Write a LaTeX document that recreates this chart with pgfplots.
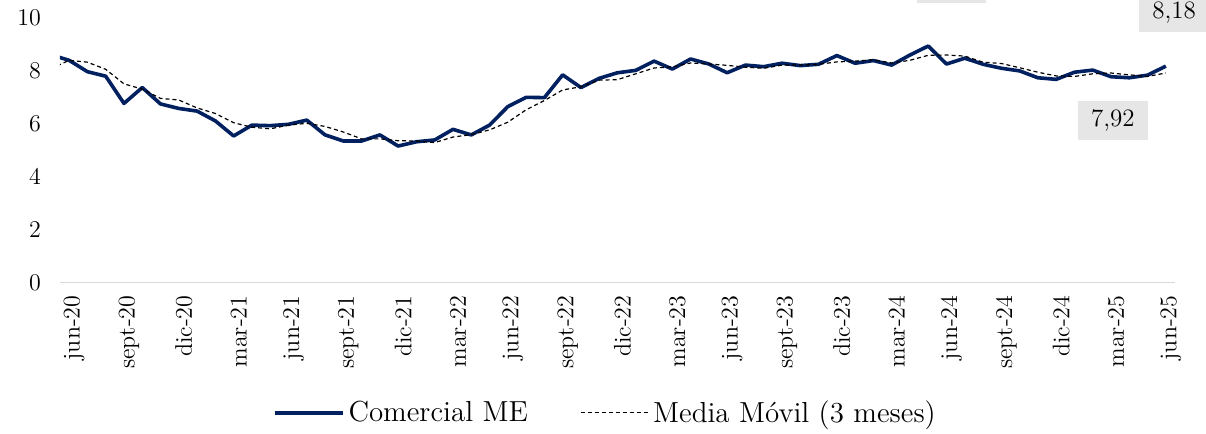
\documentclass[border=0pt]{standalone}
\usepackage{pgfplots}
\pgfplotsset{compat=1.18}
\usepackage{pgfplotstable}
\definecolor{navy}{RGB}{0,32,96}
\definecolor{boxgray}{RGB}{230,230,230}
\definecolor{zeroline}{RGB}{217,217,217}

\pgfplotstableread{
x y
-1 8.61
0 8.40
1 7.97
2 7.80
3 6.77
4 7.37
5 6.75
6 6.58
7 6.48
8 6.11
9 5.54
10 5.95
11 5.93
12 5.98
13 6.14
14 5.58
15 5.35
16 5.35
17 5.58
18 5.16
19 5.32
20 5.39
21 5.79
22 5.58
23 5.95
24 6.65
25 7.00
26 6.99
27 7.85
28 7.37
29 7.72
30 7.93
31 8.02
32 8.37
33 8.07
34 8.45
35 8.26
36 7.93
37 8.22
38 8.16
39 8.29
40 8.20
41 8.25
42 8.58
43 8.29
44 8.39
45 8.22
46 8.60
47 8.94
48 8.26
49 8.48
50 8.25
51 8.10
52 8.00
53 7.74
54 7.68
55 7.95
56 8.03
57 7.78
58 7.74
59 7.84
60 8.18
}\comercial

\pgfplotstableread{
x y
-1 8.08
0 8.40
1 8.33
2 8.06
3 7.51
4 7.31
5 6.96
6 6.90
7 6.60
8 6.39
9 6.04
10 5.87
11 5.81
12 5.95
13 6.02
14 5.90
15 5.69
16 5.43
17 5.43
18 5.36
19 5.35
20 5.29
21 5.50
22 5.59
23 5.77
24 6.06
25 6.53
26 6.88
27 7.28
28 7.40
29 7.65
30 7.67
31 7.89
32 8.11
33 8.15
34 8.30
35 8.26
36 8.21
37 8.14
38 8.10
39 8.22
40 8.22
41 8.25
42 8.34
43 8.37
44 8.42
45 8.30
46 8.40
47 8.59
48 8.60
49 8.56
50 8.33
51 8.28
52 8.12
53 7.95
54 7.81
55 7.79
56 7.89
57 7.92
58 7.85
59 7.79
60 7.92
}\media

\begin{document}
\begin{tikzpicture}
\path[use as bounding box] (0,0) rectangle (603pt,217pt);
\begin{axis}[
  at={(30pt,75.75pt)}, anchor=south west,
  scale only axis, width=557.5pt, height=132.25pt,
  xmin=-0.5, xmax=60.5, ymin=0, ymax=10,
  axis lines*=left,
  x axis line style={draw=zeroline, line width=0.6pt},
  y axis line style={draw=none},
  tick style={draw=none},
  major tick length=0pt,
  ytick={0,2,...,10},
  xtick={0,3,...,60},
  xticklabels={jun-20,sept-20,dic-20,mar-21,jun-21,sept-21,dic-21,mar-22,jun-22,sept-22,dic-22,mar-23,jun-23,sept-23,dic-23,mar-24,jun-24,sept-24,dic-24,mar-25,jun-25},
  xticklabel style={rotate=90, anchor=east, font=\fontsize{12}{14}\selectfont, xshift=-3pt, yshift=-2.5pt},
  yticklabel style={font=\fontsize{12}{14}\selectfont, anchor=east, xshift=-6pt},
  clip mode=individual,
  legend style={at={(0.49,-0.493)}, anchor=center, draw=none, fill=none,
    legend columns=2, font=\fontsize{14.5}{16}\selectfont,
    /tikz/every even column/.append style={column sep=24pt}},
  legend image code/.code={\draw[#1] (0pt,0pt) -- (34pt,0pt);},
]
\addplot[navy, line width=1.8pt, line join=round] table[x=x,y=y] {\comercial};
\addlegendentry{Comercial ME}
\addplot[black, line width=0.6pt, dash pattern=on 2pt off 1.5pt] table[x=x,y=y] {\media};
\addlegendentry{Media Móvil (3 meses)}
\node[fill=boxgray, minimum width=35pt, minimum height=19.5pt, inner sep=0pt, font=\fontsize{12.5}{14}\selectfont] at (axis cs:57.1,6.14) {7,92};
\node[fill=boxgray, minimum width=35pt, minimum height=19.5pt, inner sep=0pt, font=\fontsize{12.5}{14}\selectfont] at (axis cs:60.45,10.22) {8,18};
\node[fill=boxgray, minimum width=34.5pt, minimum height=19.5pt, inner sep=0pt, anchor=south] at (axis cs:48.3,10.57) {};
\end{axis}
\end{tikzpicture}
\end{document}
